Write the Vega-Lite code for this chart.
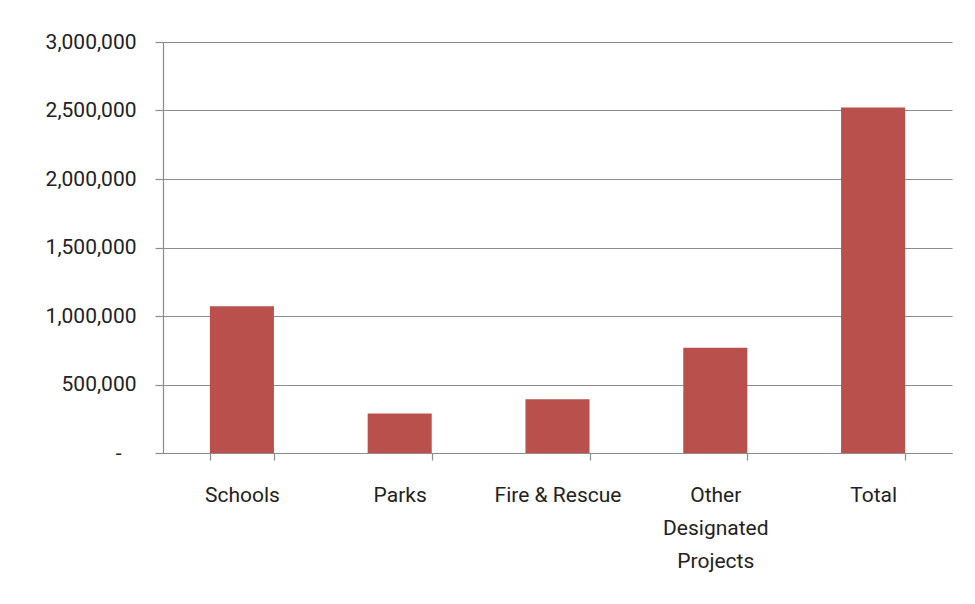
{
  "$schema": "https://vega.github.io/schema/vega-lite/v6.json",
  "autosize": "none",
  "width": 789,
  "height": 411,
  "padding": {"left": 163, "top": 42, "right": 23, "bottom": 151},
  "background": "white",
  "data": {
    "values": [
      {"category": "Schools", "amount": 1072000},
      {"category": "Parks", "amount": 289000},
      {"category": "Fire & Rescue", "amount": 392000},
      {"category": "Other Designated Projects", "amount": 768000},
      {"category": "Total", "amount": 2521000}
    ]
  },
  "mark": {"type": "bar", "color": "#B9504C"},
  "encoding": {
    "x": {
      "field": "category",
      "type": "nominal",
      "sort": null,
      "scale": {"paddingInner": 0.594, "paddingOuter": 0.297},
      "axis": {
        "title": null,
        "labelAngle": 0,
        "tickBand": "extent",
        "tickSize": 7,
        "labelPadding": 24,
        "labelExpr": "datum.label == 'Other Designated Projects' ? ['Other', 'Designated', 'Projects'] : datum.label",
        "labelLineHeight": 33
      }
    },
    "y": {
      "field": "amount",
      "type": "quantitative",
      "scale": {"domain": [0, 3000000], "nice": false},
      "axis": {
        "title": null,
        "values": [0, 500000, 1000000, 1500000, 2000000, 2500000, 3000000],
        "tickSize": 8,
        "labelPadding": {"condition": {"test": "datum.value == 0", "value": 34}, "value": 19},
        "labelExpr": "datum.value == 0 ? '-' : format(datum.value, ',')",
        "grid": true
      }
    }
  },
  "config": {
    "view": {"stroke": null},
    "axis": {
      "labelFont": "Roboto",
      "labelFontSize": 21,
      "labelColor": "#222222",
      "domainColor": "#8c8c8c",
      "tickColor": "#8c8c8c",
      "gridColor": "#8c8c8c",
      "domainWidth": 1.2,
      "tickWidth": 1.2,
      "gridWidth": 1.2,
      "labelFontWeight": "normal"
    }
  }
}
